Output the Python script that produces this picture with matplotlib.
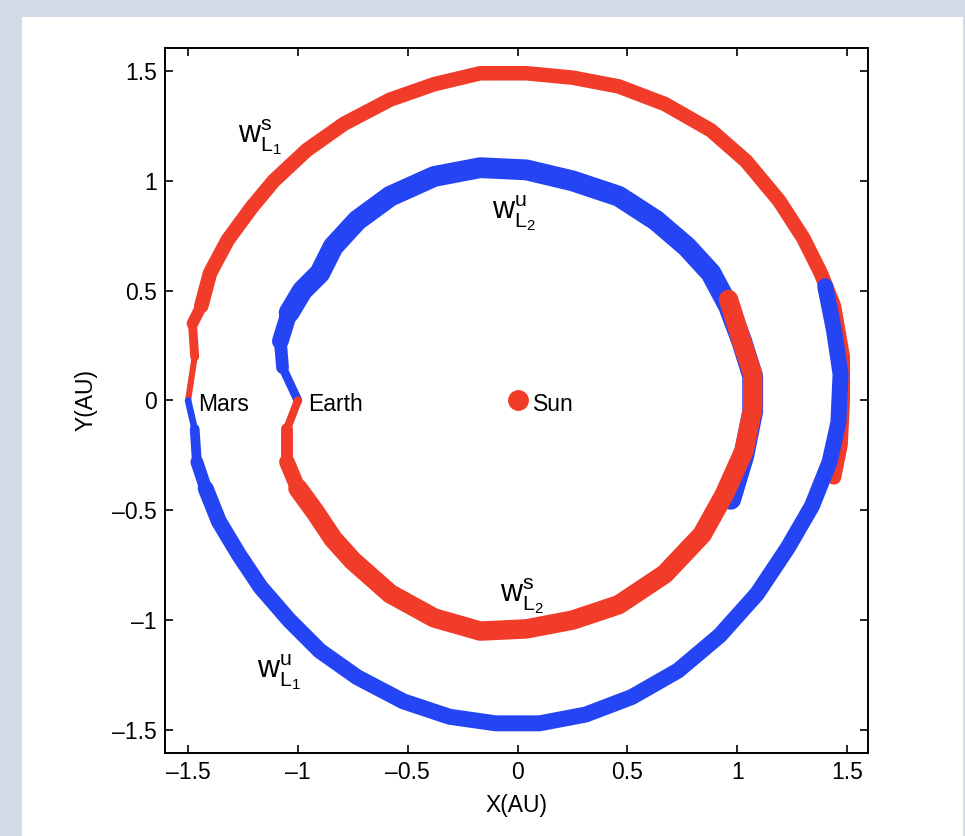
import numpy as np
import matplotlib
matplotlib.use('Agg')
import matplotlib.pyplot as plt
from matplotlib.collections import LineCollection
from matplotlib.patches import Rectangle
from matplotlib.ticker import FuncFormatter

# manifold centre lines (AU)
# W_L1^s (red, outer): Mars -> over the top -> down the right side
wl1s_x = [-1.50, -1.47, -1.48, -1.44, -1.40, -1.32, -1.21, -1.11, -0.96, -0.79, -0.58, -0.38,
          -0.17, 0.04, 0.25, 0.46, 0.67, 0.88, 1.04, 1.19, 1.30, 1.38, 1.44, 1.48, 1.48, 1.47, 1.44]
wl1s_y = [0.00, 0.20, 0.35, 0.43, 0.58, 0.73, 0.88, 1.00, 1.14, 1.26, 1.37, 1.44,
          1.49, 1.49, 1.47, 1.43, 1.35, 1.23, 1.09, 0.91, 0.74, 0.58, 0.43, 0.20, 0.00, -0.20, -0.35]

# W_L1^u (blue, outer): Mars -> under the bottom -> up the right side
wl1u_x = [-1.50, -1.47, -1.46, -1.42, -1.36, -1.27, -1.17, -1.04, -0.90, -0.73, -0.52, -0.31,
          -0.10, 0.10, 0.31, 0.52, 0.73, 0.92, 1.09, 1.23, 1.34, 1.42, 1.46, 1.47, 1.44, 1.40]
wl1u_y = [0.00, -0.13, -0.28, -0.40, -0.55, -0.70, -0.85, -1.00, -1.14, -1.26, -1.37, -1.44,
          -1.47, -1.47, -1.43, -1.35, -1.23, -1.07, -0.88, -0.67, -0.48, -0.28, -0.10, 0.12, 0.32, 0.52]

# W_L2^u (blue, inner): Earth -> over the top -> down the right side
wl2u_x = [-1.00, -1.07, -1.08, -1.04, -0.98, -0.90, -0.84, -0.73, -0.58, -0.38, -0.17, 0.04,
          0.25, 0.46, 0.63, 0.77, 0.88, 0.96, 1.02, 1.07, 1.07, 1.03, 0.97]
wl2u_y = [0.00, 0.15, 0.27, 0.40, 0.50, 0.58, 0.70, 0.82, 0.93, 1.02, 1.06, 1.05,
          1.00, 0.93, 0.82, 0.70, 0.58, 0.43, 0.27, 0.11, -0.05, -0.25, -0.45]

# W_L2^s (red, inner): Earth -> under the bottom -> up the right side
wl2s_x = [-1.00, -1.05, -1.05, -1.00, -0.92, -0.84, -0.75, -0.58, -0.38, -0.17, 0.04, 0.25,
          0.46, 0.67, 0.84, 0.94, 1.03, 1.07, 1.07, 1.02, 0.96]
wl2s_y = [0.00, -0.13, -0.28, -0.40, -0.51, -0.63, -0.73, -0.88, -0.99, -1.05, -1.04, -1.00,
          -0.93, -0.79, -0.61, -0.43, -0.23, -0.04, 0.12, 0.27, 0.46]

bodies = ['Mars', 'Earth', 'Sun']
body_x = [-1.50, -1.00, 0.00]
body_y = [0.00, 0.00, 0.00]

# manifold labels: w^{sup}_{L_n}
man_sup = ['s', 'u', 's', 'u']
man_num = ['1', '2', '2', '1']
man_x = [-1.273, -0.118, -0.082, -1.186]
man_y = [1.199, 0.853, -0.889, -1.236]

ticks = [-1.5, -1, -0.5, 0, 0.5, 1, 1.5]

RED = '#f03c28'
BLUE = '#2545f4'

plt.rcParams['font.family'] = ['Liberation Sans', 'DejaVu Sans']
plt.rcParams['mathtext.fontset'] = 'custom'
plt.rcParams['mathtext.rm'] = 'Liberation Sans'
plt.rcParams['mathtext.it'] = 'Liberation Sans'

fig = plt.figure(figsize=(9.65, 8.36), dpi=100, facecolor='#d1dbe7')
fig.patches.append(Rectangle((22 / 965, 0), 941 / 965, 819 / 836, transform=fig.transFigure,
                             facecolor='white', edgecolor='none', zorder=-10))
ax = fig.add_axes([0.171, 0.0993, 0.7285, 0.8433])


def band(xs, ys, color, width, z, ntap=3):
    pts = np.column_stack([xs, ys])
    # thin start near the planet
    segs = np.stack([pts[:ntap], pts[1:ntap + 1]], axis=1)
    lw = [width * (0.42 + 0.58 * i / ntap) for i in range(ntap)]
    ax.add_collection(LineCollection(segs, colors=color, linewidths=lw, capstyle='round',
                                     joinstyle='round', zorder=z))
    ax.plot(xs[ntap:], ys[ntap:], color=color, lw=width, solid_capstyle='round',
            solid_joinstyle='round', zorder=z)


band(wl2u_x, wl2u_y, BLUE, 15, 2)
band(wl2s_x, wl2s_y, RED, 14, 3)
band(wl1s_x, wl1s_y, RED, 10.5, 2)
band(wl1u_x, wl1u_y, BLUE, 11.5, 3)

ax.plot(body_x[2], body_y[2], 'o', color=RED, markersize=14, zorder=4)
offs = [0.045, 0.045, 0.07]
for name, bx, by, o in zip(bodies, body_x, body_y, offs):
    ax.text(bx + o, by - 0.02, name, fontsize=16.5, va='center', ha='left', zorder=5)

for sup, num, mx, my in zip(man_sup, man_num, man_x, man_y):
    s = r'$\mathrm{w}^{\mathrm{%s}}_{\mathrm{L}_{\mathrm{%s}}}$' % (sup, num)
    ax.text(mx, my, s, fontsize=22, va='center', ha='left', zorder=5)

ax.set_xlim(-1.605, 1.595)
ax.set_ylim(-1.605, 1.605)
ax.set_xticks(ticks)
ax.set_yticks(ticks)
fmt = FuncFormatter(lambda v, p: ('%g' % v).replace('-', '\u2013'))
ax.xaxis.set_major_formatter(fmt)
ax.yaxis.set_major_formatter(fmt)
ax.tick_params(direction='in', top=True, right=True, length=6, width=1.2, labelsize=16.5, pad=6)
for sp in ax.spines.values():
    sp.set_linewidth(1.4)
ax.set_xlabel('X(AU)', fontsize=16.5, labelpad=7)
ax.set_ylabel('Y(AU)', fontsize=16.5, labelpad=10)

fig.savefig('out.png', dpi=100, facecolor=fig.get_facecolor())
